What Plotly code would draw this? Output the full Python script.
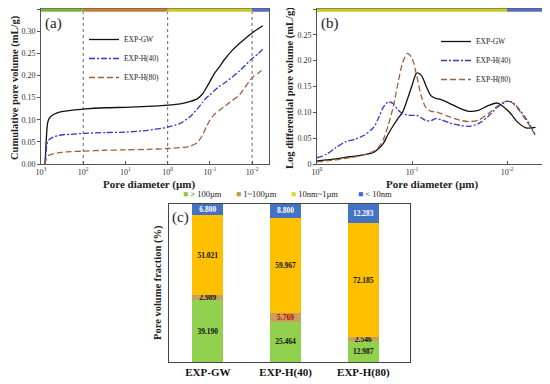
import plotly.graph_objects as go

# ---------------- data ----------------
# Panel (a): cumulative pore volume (mL/g) vs pore diameter (um)
diam_a = [800, 760, 700, 640, 560, 480, 400, 300, 200, 100, 30, 10, 3, 1, 0.5, 0.3,
          0.2, 0.15, 0.12, 0.1, 0.08, 0.06, 0.045, 0.03, 0.02, 0.01, 0.007, 0.0056]
gw_a = [0.0, 0.045, 0.092, 0.103, 0.109, 0.113, 0.116, 0.119, 0.121, 0.124, 0.127, 0.128,
        0.130, 0.133, 0.136, 0.141, 0.147, 0.158, 0.173, 0.186, 0.203, 0.219, 0.236, 0.256,
        0.272, 0.296, 0.306, 0.312]
h40_a = [0.0, 0.030, 0.050, 0.055, 0.059, 0.062, 0.064, 0.066, 0.067, 0.069, 0.071, 0.072,
         0.076, 0.083, 0.092, 0.106, 0.124, 0.139, 0.150, 0.156, 0.165, 0.175, 0.183, 0.196,
         0.210, 0.238, 0.250, 0.259]
h80_a = [0.0, 0.010, 0.017, 0.020, 0.022, 0.024, 0.025, 0.027, 0.028, 0.029, 0.031, 0.032,
         0.033, 0.035, 0.037, 0.040, 0.048, 0.065, 0.085, 0.099, 0.111, 0.121, 0.130, 0.143,
         0.156, 0.195, 0.206, 0.213]

# Panel (b): log differential pore volume (mL/g)
diam_b = [1, 0.794, 0.631, 0.501, 0.398, 0.316, 0.251, 0.224, 0.2, 0.178, 0.158, 0.141,
          0.126, 0.112, 0.1, 0.0891, 0.0794, 0.0708, 0.0631, 0.0562, 0.0501, 0.0398, 0.0316,
          0.0251, 0.02, 0.0158, 0.0126, 0.01, 0.00891, 0.00794, 0.00631, 0.00501]
gw_b = [0.006, 0.008, 0.010, 0.013, 0.015, 0.018, 0.023, 0.030, 0.040, 0.058, 0.074, 0.088,
        0.100, 0.125, 0.152, 0.176, 0.171, 0.150, 0.132, 0.127, 0.125, 0.117, 0.108, 0.102,
        0.104, 0.113, 0.118, 0.105, 0.095, 0.083, 0.070, 0.071]
h40_b = [0.012, 0.019, 0.032, 0.043, 0.048, 0.056, 0.072, 0.090, 0.110, 0.120, 0.117, 0.105,
         0.098, 0.095, 0.094, 0.094, 0.089, 0.084, 0.084, 0.088, 0.086, 0.079, 0.075, 0.073,
         0.078, 0.092, 0.110, 0.121, 0.120, 0.112, 0.088, 0.056]
h80_b = [0.004, 0.006, 0.008, 0.011, 0.014, 0.018, 0.025, 0.033, 0.048, 0.075, 0.110, 0.155,
         0.195, 0.214, 0.205, 0.170, 0.130, 0.108, 0.102, 0.101, 0.098, 0.091, 0.085, 0.082,
         0.085, 0.097, 0.112, 0.122, 0.119, 0.110, 0.085, 0.055]

# Panel (c): pore volume fraction (%)
samples = ["EXP-GW", "EXP-H(40)", "EXP-H(80)"]
frac_gt100um = [39.190, 25.464, 12.987]
frac_1_100um = [2.989, 5.769, 2.546]
frac_10nm_1um = [51.021, 59.967, 72.185]
frac_lt10nm = [6.800, 8.800, 12.283]
class_names = ["> 100µm", "1~100µm", "10nm~1µm", "< 10nm"]

x_ticks_a = [1000, 100, 10, 1, 0.1, 0.01]
x_text_a = ["10<sup>3</sup>", "10<sup>2</sup>", "10<sup>1</sup>", "10<sup>0</sup>",
            "10<sup>-1</sup>", "10<sup>-2</sup>"]
x_ticks_b = [1, 0.1, 0.01]
x_text_b = ["10<sup>0</sup>", "10<sup>-1</sup>", "10<sup>-2</sup>"]
y_ticks_a = [0, 0.05, 0.10, 0.15, 0.20, 0.25, 0.30, 0.35]
y_text_a = ["0.00", "0.05", "0.10", "0.15", "0.20", "0.25", "0.30", "0.35"]
y_ticks_b = [0, 0.05, 0.10, 0.15, 0.20, 0.25, 0.30]
y_text_b = ["0", "0.05", "0.10", "0.15", "0.20", "0.25", "0.30"]

# ---------------- styling ----------------
FONT = "Liberation Serif"
OFF = 8                      # default page margin of the html body
W, H = 550 - OFF, 384 - OFF
C_GW, C_H40, C_H80 = "#111111", "#3a34c8", "#a0603a"
DASH_H40 = "6px,2px,2px,2px"
DASH_H80 = "6px,3px"
bar_colors = ["#92d050", "#c9a15a", "#ffc000", "#4472c4"]
legend_colors = ["#8cc63f", "#b89c48", "#d6dc1e", "#4466cc"]
legend_xpos = [181, 234, 289, 356]


def px(v):
    return (v - OFF) / W


def py(v):
    return 1 - (v - OFF) / H


fig = go.Figure()

series = [("EXP-GW", C_GW, "solid"), ("EXP-H(40)", C_H40, DASH_H40), ("EXP-H(80)", C_H80, DASH_H80)]
for (name, col, dash), ya in zip(series, [gw_a, h40_a, h80_a]):
    fig.add_trace(go.Scatter(x=diam_a, y=ya, mode="lines", name=name, xaxis="x", yaxis="y",
                             line=dict(color=col, width=1.3, dash=dash, shape="spline", smoothing=0.6),
                             legend="legend"))
for (name, col, dash), yb in zip(series, [gw_b, h40_b, h80_b]):
    fig.add_trace(go.Scatter(x=diam_b, y=yb, mode="lines", name=name, xaxis="x2", yaxis="y2",
                             line=dict(color=col, width=1.3, dash=dash, shape="spline", smoothing=0.8),
                             legend="legend2"))

seg_data = [frac_gt100um, frac_1_100um, frac_10nm_1um, frac_lt10nm]
text_cols = [["#111"] * 3, ["#111", "#c00000", "#111"], ["#111"] * 3, ["#ffffff"] * 3]
for vals, col, tcol, nm in zip(seg_data, bar_colors, text_cols, class_names):
    fig.add_trace(go.Bar(x=samples, y=vals, name=nm, xaxis="x3", yaxis="y3", width=0.4,
                         marker=dict(color=col, line=dict(width=0)),
                         text=[f"{v:.3f}" for v in vals], textposition="inside",
                         insidetextanchor="middle", textangle=0, constraintext="none",
                         textfont=dict(family=FONT, size=7.5, color=tcol, weight="bold"),
                         showlegend=False, hoverinfo="skip"))

axis_common = dict(showgrid=False, zeroline=False, showline=True, mirror=True, automargin=False,
                   linecolor="#555", linewidth=1, tickcolor="#555",
                   tickfont=dict(family=FONT, size=8, color="#333"))

dom_ab_y = [py(164), py(9)]
fig.update_layout(
    template="none",
    width=W, height=H, margin=dict(l=0, r=0, t=0, b=0, pad=0),
    paper_bgcolor="white", plot_bgcolor="white",
    font=dict(family=FONT, color="#111"),
    barmode="stack", uniformtext=dict(minsize=7.5, mode="show"),
    xaxis=dict(type="log", range=[3, -2.4], domain=[px(41), px(269)], anchor="y",
               tickvals=x_ticks_a, ticktext=x_text_a, ticks="inside", ticklen=3, **axis_common),
    yaxis=dict(range=[0, 0.35], domain=dom_ab_y, anchor="x", tickvals=y_ticks_a, ticktext=y_text_a,
               ticks="outside", ticklen=3, **axis_common),
    xaxis2=dict(type="log", range=[0, -2.4], domain=[px(317), px(545)], anchor="y2",
                tickvals=x_ticks_b, ticktext=x_text_b, ticks="inside", ticklen=3, **axis_common),
    yaxis2=dict(range=[0, 0.30], domain=dom_ab_y, anchor="x2", tickvals=y_ticks_b, ticktext=y_text_b,
                ticks="outside", ticklen=3, **axis_common),
    xaxis3=dict(type="category", range=[-0.5, 2.6], domain=[px(169), px(410)], anchor="y3",
                showgrid=False, zeroline=False, showline=True, mirror=True, linecolor="#444",
                automargin=False, linewidth=1, ticks="",
                tickfont=dict(family=FONT, size=11, color="#111", weight="bold")),
    yaxis3=dict(range=[0, 100], domain=[py(362), py(204)], anchor="x3", showgrid=False, zeroline=False,
                showline=True, mirror=True, linecolor="#444", linewidth=1, showticklabels=False,
                ticks="", automargin=False),
    legend=dict(x=px(84), y=py(25), xanchor="left", yanchor="top", bgcolor="rgba(0,0,0,0)",
                traceorder="normal", font=dict(family=FONT, size=7.5, color="#222")),
    legend2=dict(x=px(436), y=py(27), xanchor="left", yanchor="top", bgcolor="rgba(0,0,0,0)",
                 traceorder="normal", font=dict(family=FONT, size=7.5, color="#222")),
)

# top class strips and dotted boundaries
strip_a = [(1000, 100, "#7cb342"), (100, 1, "#c0803a"), (1, 0.01, "#c8c82a"), (0.01, 10 ** -2.4, "#5c6bc0")]
for x0, x1, c in strip_a:
    fig.add_shape(type="rect", xref="x", yref="y domain", x0=x0, x1=x1, y0=0.982, y1=1.004,
                  fillcolor=c, line=dict(width=0), layer="above")
strip_b = [(1, 0.01, "#c8c82a"), (0.01, 10 ** -2.4, "#5c6bc0")]
for x0, x1, c in strip_b:
    fig.add_shape(type="rect", xref="x2", yref="y2 domain", x0=x0, x1=x1, y0=0.982, y1=1.004,
                  fillcolor=c, line=dict(width=0), layer="above")
for xv in [100, 1, 0.01]:
    fig.add_shape(type="line", xref="x", yref="y domain", x0=xv, x1=xv, y0=0, y1=0.982,
                  line=dict(color="#666", width=1, dash="dot"), layer="below")

ann = [
    dict(x=px(53), y=py(24), text="(a)", font=dict(size=15)),
    dict(x=px(330), y=py(24), text="(b)", font=dict(size=15)),
    dict(x=px(180), y=py(218), text="(c)", font=dict(size=15)),
    dict(x=px(15), y=py(88), text="<b>Cumulative pore volume (mL/g)</b>", textangle=-90, font=dict(size=10.5)),
    dict(x=px(149), y=py(184), text="<b>Pore diameter (µm)</b>", font=dict(size=11)),
    dict(x=px(290), y=py(88), text="<b>Log differential pore volume (mL/g)</b>", textangle=-90, font=dict(size=10.5)),
    dict(x=px(432), y=py(184), text="<b>Pore diameter (µm)</b>", font=dict(size=11)),
    dict(x=px(158), y=py(283), text="<b>Pore volume fraction (%)</b>", textangle=-90, font=dict(size=10.5)),
]
for a in ann:
    a.update(xanchor="center")
# legend for panel (c): colour keys of the four pore classes
for nm, col, lx in zip(class_names, legend_colors, legend_xpos):
    ann.append(dict(x=px(lx), y=py(194), xanchor="left",
                    text=f"<span style='color:{col}'>■</span> {nm}", font=dict(size=8.5)))
for a in ann:
    a.update(xref="paper", yref="paper", showarrow=False, yanchor="middle")
    a["font"] = dict(family=FONT, color="#222", **a["font"])
    fig.add_annotation(**a)

fig.write_html("out.html")
